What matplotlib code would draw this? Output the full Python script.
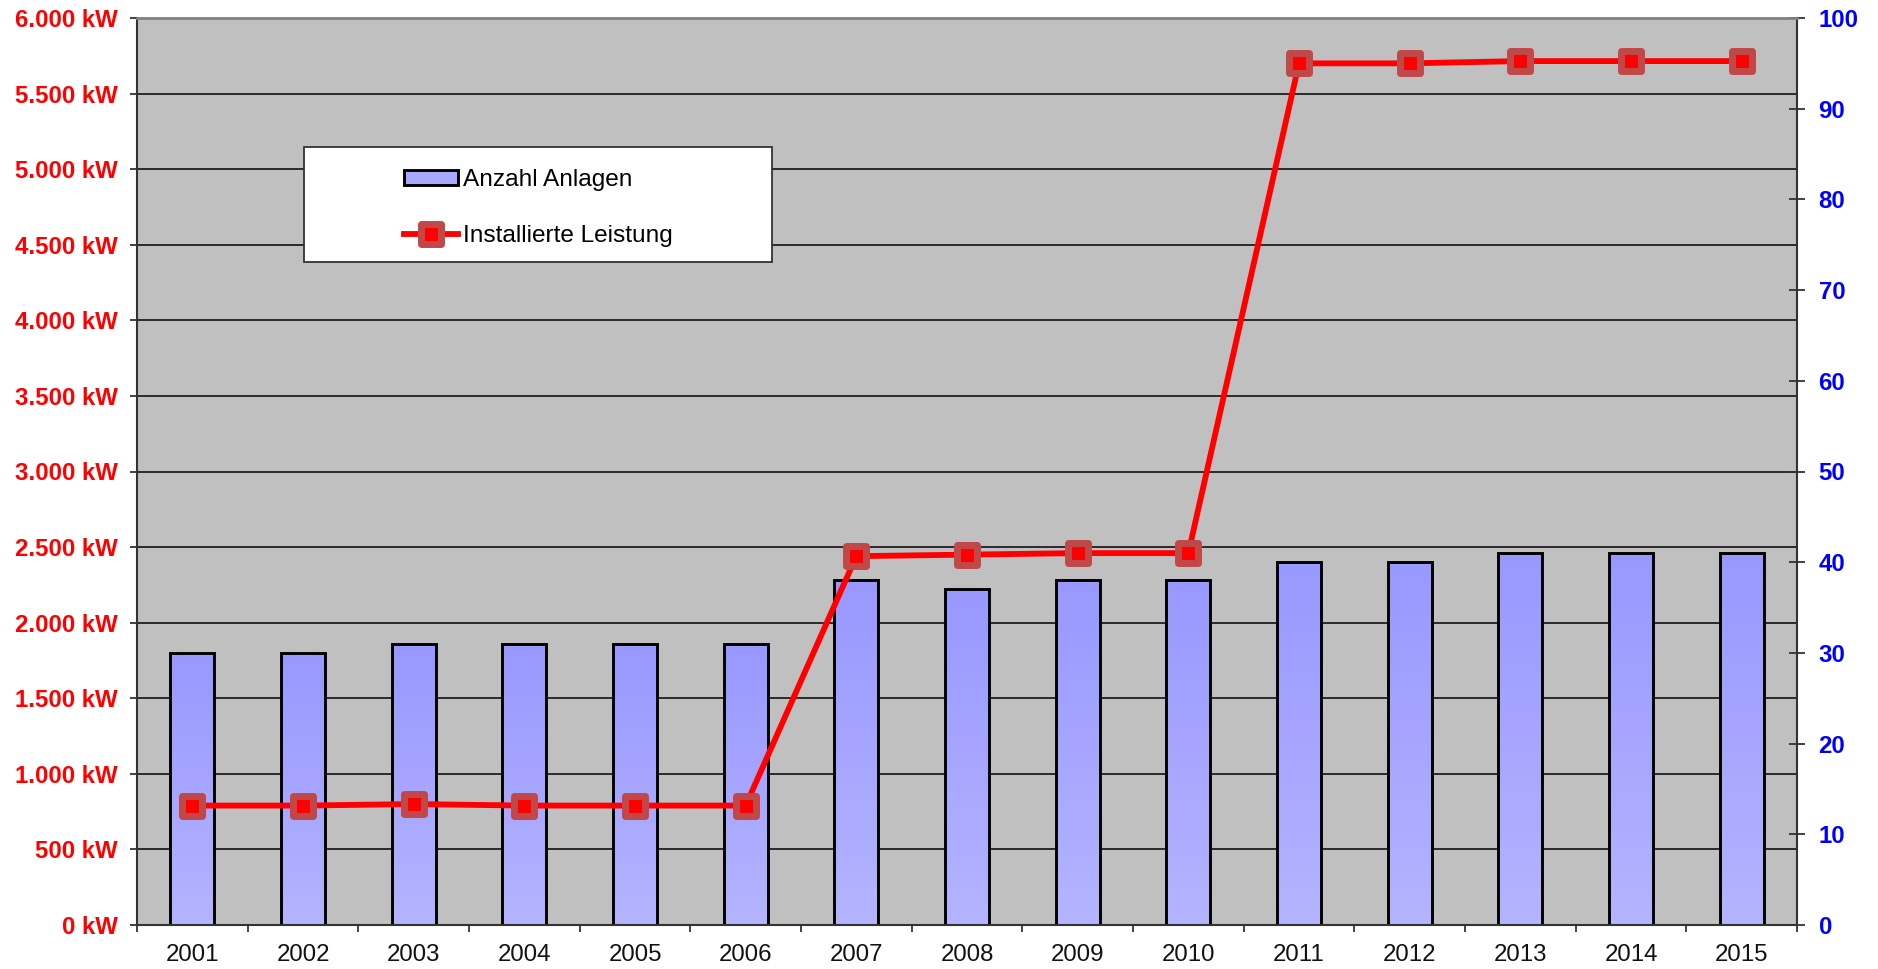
import matplotlib
matplotlib.use('Agg')
import matplotlib.pyplot as plt
import numpy as np
from matplotlib.markers import MarkerStyle
from matplotlib.patches import Patch, Rectangle
from matplotlib.lines import Line2D
from matplotlib.colors import LinearSegmentedColormap

years = [str(y) for y in range(2001, 2016)]
anzahl = [30, 30, 31, 31, 31, 31, 38, 37, 38, 38, 40, 40, 41, 41, 41]
leistung = [790, 790, 800, 790, 790, 790, 2440, 2450, 2460, 2460, 5700, 5700, 5715, 5715, 5715]
kw_ticks = list(range(0, 6001, 500))
count_ticks = list(range(0, 101, 10))

plt.rcParams['font.family'] = ['Liberation Sans', 'DejaVu Sans']

W, H = 1878, 969
fig = plt.figure(figsize=(W / 100, H / 100), dpi=100)
ax = fig.add_axes([137 / W, 1 - 925 / H, (1797 - 137) / W, (925 - 18) / H])
ax2 = ax.twinx()
ax.set_zorder(2)
ax.patch.set_visible(False)
ax2.set_zorder(1)
ax2.patch.set_visible(True)
ax2.set_facecolor('#C0C0C0')

x = np.arange(len(years))
ax.set_xlim(-0.5, len(years) - 0.5)
ax.set_ylim(0, 6000)
ax2.set_ylim(0, 100)

# gridlines (behind bars), placed at the kW ticks of the left axis
for v in kw_ticks[1:-1]:
    ax2.add_line(Line2D([0, 1], [v, v], transform=ax.get_yaxis_transform(),
                        color='#2a2a2a', lw=1.4, zorder=1))

bars = ax2.bar(x, anzahl, width=0.4, facecolor='none', edgecolor='black',
               linewidth=2.1, zorder=3)
cmap = LinearSegmentedColormap.from_list('g', ['#B4B4FF', '#9898FF'])
grad = np.linspace(0, 1, 256).reshape(-1, 1)
for b in bars:
    x0, y0 = b.get_x(), b.get_y()
    w, h = b.get_width(), b.get_height()
    im = ax2.imshow(grad, extent=[x0, x0 + w, y0, y0 + h], origin='lower',
                    aspect='auto', cmap=cmap, zorder=2)
    im.set_clip_path(b)
ax2.set_xlim(-0.5, len(years) - 0.5)
ax2.set_ylim(0, 100)

ms = MarkerStyle('s', joinstyle='round')
line_kw = dict(color='#FF0000', lw=4.2, marker=ms, markersize=14.5,
               markerfacecolor='#FF0000', markeredgecolor='#C04848',
               markeredgewidth=5.0)
ax.plot(x, leistung, zorder=5, clip_on=False, **line_kw)

# axes styling
ax.set_yticks(kw_ticks)
ax.set_yticklabels([f"{v:,} kW".replace(',', '.') for v in kw_ticks],
                   fontweight='bold')
ax.tick_params(axis='y', labelcolor='#FF0000', labelsize=17.3, length=5,
               width=1.3, direction='out', pad=9, color='#333333')
ax2.set_yticks(count_ticks)
ax2.set_yticklabels([str(v) for v in count_ticks], fontweight='bold')
ax2.tick_params(axis='y', labelcolor='#0000FF', labelsize=17.3,
                direction='inout', length=11, width=1.3, pad=10, color='#333333')

ax.set_xticks(np.arange(-0.5, len(years), 1))
ax.set_xticklabels([])
ax.set_xticks(x, minor=True)
ax.set_xticklabels(years, minor=True)
ax.tick_params(axis='x', which='major', length=5, width=1.3, direction='out',
               color='#333333')
ax.tick_params(axis='x', which='minor', length=0, pad=14, labelsize=17.3,
               labelcolor='#111111')

for s in ax2.spines.values():
    s.set_visible(False)
for k in ['left', 'right', 'bottom']:
    ax.spines[k].set_color('#333333')
    ax.spines[k].set_linewidth(1.5)
ax.spines['top'].set_color('#808080')
ax.spines['top'].set_linewidth(2)

# legend
frame = Rectangle((304 / W, 1 - 261.7 / H), (772 - 304) / W, (261.7 - 147.3) / H,
                  transform=fig.transFigure, facecolor='white',
                  edgecolor='#333333', lw=1.3, zorder=6)
ax.add_patch(frame)
handles = [Patch(facecolor='#A8A8FF', edgecolor='black', lw=2.1, label='Anzahl Anlagen'),
           Line2D([], [], label='Installierte Leistung', **line_kw)]
leg = ax.legend(handles=handles, loc='upper left',
                bbox_to_anchor=(404 / W, 1 - 169 / H), bbox_transform=fig.transFigure,
                frameon=False, fontsize=17.6, handlelength=2.2, handletextpad=0.2,
                labelspacing=1.38, borderpad=0, borderaxespad=0, handleheight=0.55,
                numpoints=1)
leg.set_zorder(7)

fig.savefig('out.png', dpi=100, facecolor='white')
